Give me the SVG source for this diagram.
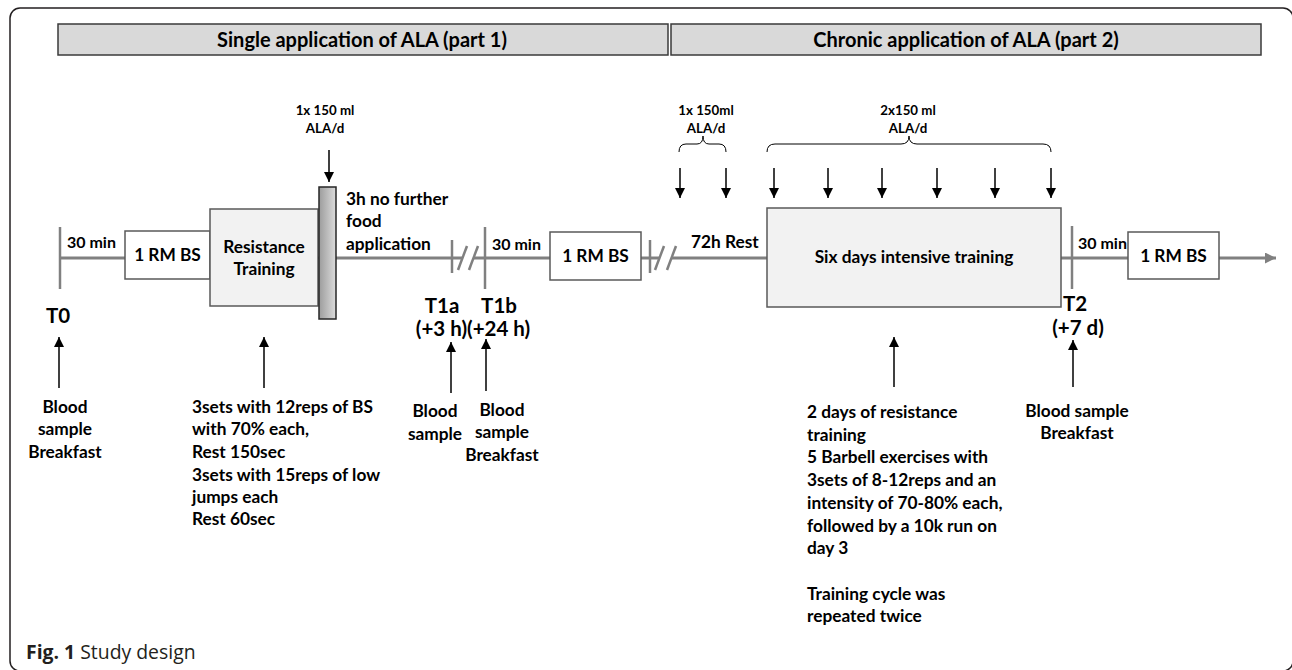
<svg xmlns="http://www.w3.org/2000/svg" width="1292" height="670" viewBox="0 0 1292 670">
<defs>
<marker id="ah" markerUnits="userSpaceOnUse" markerWidth="10" markerHeight="12" refX="10" refY="5" orient="auto">
<path d="M0,0 L10,5 L0,10 Z" fill="#000"/>
</marker>
<marker id="ahg" markerUnits="userSpaceOnUse" markerWidth="12" markerHeight="12" refX="11" refY="5.5" orient="auto">
<path d="M0,0 L11,5.5 L0,11 Z" fill="#808080"/>
</marker>
<linearGradient id="barg" x1="0" y1="0" x2="1" y2="0">
<stop offset="0" stop-color="#9c9c9c"/>
<stop offset="1" stop-color="#dcdcdc"/>
</linearGradient>
<style>
text{font-family:Lato,"Liberation Sans",sans-serif;font-weight:bold;fill:#000}
.hd{font-size:20px}
.lb{font-size:17.3px}
.sm{font-size:16px}
.ala{font-size:13.3px}
.tl{font-size:20.5px}
.mid{text-anchor:middle}
.hbar{fill:#d9d9d9;stroke:#3a3a3a;stroke-width:1.5}
.box{fill:#fff;stroke:#595959;stroke-width:1.5}
.gbox{fill:#f2f2f2;stroke:#595959;stroke-width:1.5}
.line{stroke:#808080;stroke-width:3;fill:none}
.tick{stroke:#808080;stroke-width:2.5;fill:none}
.arr{stroke:#000;stroke-width:1.5;fill:none}
.brace{stroke:#000;stroke-width:1;fill:none}
.cap{font-family:"Open Sans","Liberation Sans",sans-serif;font-size:19.4px;fill:#231f20}
</style>
</defs>
<rect x="10" y="8" width="1283" height="663" rx="10" fill="none" stroke="#231f20" stroke-width="1.5"/>

<g id="header1"><rect class="hbar" x="58" y="24" width="610" height="31"/><text class="hd mid" x="362" y="47">Single application of ALA (part 1)</text></g>
<g id="header2"><rect class="hbar" x="671" y="24" width="590" height="31"/><text class="hd mid" x="966" y="47">Chronic application of ALA (part 2)</text></g>

<g id="connectors">
<line class="line" x1="60" y1="258" x2="125" y2="258"/>
<line class="line" x1="210" y1="258" x2="319" y2="258"/>
<line class="line" x1="336" y1="258" x2="462" y2="258"/>
<line class="line" x1="473" y1="258" x2="550" y2="258"/>
<line class="line" x1="641" y1="258" x2="659" y2="258"/>
<line class="line" x1="671" y1="258" x2="767" y2="258"/>
<line class="line" x1="1061" y1="258" x2="1128" y2="258"/>
<line class="line" x1="1219" y1="258" x2="1276" y2="258" marker-end="url(#ahg)"/>
<line class="tick" x1="60" y1="227" x2="60" y2="289"/>
<line class="tick" x1="452" y1="240" x2="452" y2="273"/>
<line class="tick" x1="458" y1="270" x2="467" y2="246"/>
<line class="tick" x1="469" y1="270" x2="478" y2="246"/>
<line class="tick" x1="485" y1="227" x2="485" y2="289"/>
<line class="tick" x1="650" y1="240" x2="650" y2="273"/>
<line class="tick" x1="655" y1="270" x2="664" y2="246"/>
<line class="tick" x1="667" y1="270" x2="676" y2="246"/>
<line class="tick" x1="1072" y1="226" x2="1072" y2="289"/>
<line class="arr" x1="329" y1="150" x2="329" y2="182" marker-end="url(#ah)"/>
<line class="arr" x1="680" y1="168" x2="680" y2="198" marker-end="url(#ah)"/>
<line class="arr" x1="726" y1="168" x2="726" y2="198" marker-end="url(#ah)"/>
<line class="arr" x1="774" y1="168" x2="774" y2="198" marker-end="url(#ah)"/>
<line class="arr" x1="828" y1="168" x2="828" y2="198" marker-end="url(#ah)"/>
<line class="arr" x1="882" y1="168" x2="882" y2="198" marker-end="url(#ah)"/>
<line class="arr" x1="937" y1="168" x2="937" y2="198" marker-end="url(#ah)"/>
<line class="arr" x1="995" y1="168" x2="995" y2="198" marker-end="url(#ah)"/>
<line class="arr" x1="1051" y1="168" x2="1051" y2="198" marker-end="url(#ah)"/>
<line class="arr" x1="59" y1="388" x2="59" y2="337" marker-end="url(#ah)"/>
<line class="arr" x1="264" y1="388" x2="264" y2="337" marker-end="url(#ah)"/>
<line class="arr" x1="451" y1="393" x2="451" y2="342" marker-end="url(#ah)"/>
<line class="arr" x1="486" y1="391" x2="486" y2="339" marker-end="url(#ah)"/>
<line class="arr" x1="894" y1="387" x2="894" y2="337" marker-end="url(#ah)"/>
<line class="arr" x1="1073" y1="387" x2="1073" y2="340" marker-end="url(#ah)"/>
<path class="brace" d="M679,152 Q679,144 686,144 L697,144 Q703,144 703,136 Q703,144 709,144 L719,144 Q726,144 726,152"/>
<path class="brace" d="M767,152 Q767,144 775,144 L901,144 Q909,144 909,136 Q909,144 917,144 L1043,144 Q1051,144 1051,152"/>
</g>

<g id="rm1"><rect class="box" x="125" y="231" width="85" height="48"/><text class="lb mid" x="167.5" y="261">1 RM BS</text></g>
<g id="resistance"><rect class="gbox" x="210" y="209" width="108" height="97"/><text class="lb mid" x="264" y="253">Resistance</text><text class="lb mid" x="264" y="275">Training</text></g>
<g id="alabar"><rect x="319" y="187" width="17" height="132" fill="url(#barg)" stroke="#262626" stroke-width="1.5"/></g>
<g id="nofood"><text class="lb" x="346" y="205">3h no further</text><text class="lb" x="346" y="227">food</text><text class="lb" x="346" y="250">application</text></g>
<g id="rm2"><rect class="box" x="550" y="232" width="91" height="48"/><text class="lb mid" x="595.5" y="262">1 RM BS</text></g>
<g id="sixdays"><rect class="gbox" x="767" y="208" width="294" height="99"/><text class="lb mid" x="914" y="263">Six days intensive training</text></g>
<g id="rm3"><rect class="box" x="1128" y="232" width="91" height="47"/><text class="lb mid" x="1173.5" y="262">1 RM BS</text></g>

<g id="durations">
<text class="sm" x="67" y="248">30 min</text>
<text class="sm" x="492" y="250">30 min</text>
<text class="sm" x="1078" y="249">30 min</text>
<text class="lb" x="691" y="248">72h Rest</text>
</g>

<g id="ala-labels">
<text class="ala mid" x="325" y="115">1x 150 ml</text>
<text class="ala mid" x="325" y="133">ALA/d</text>
<text class="ala mid" x="706" y="115">1x 150ml</text>
<text class="ala mid" x="706" y="133">ALA/d</text>
<text class="ala mid" x="908" y="115">2x150 ml</text>
<text class="ala mid" x="908" y="133">ALA/d</text>
</g>

<g id="timepoints">
<text class="tl mid" x="58" y="323">T0</text>
<text class="tl mid" x="442" y="313">T1a</text>
<text class="tl mid" x="499" y="313">T1b</text>
<text class="tl mid" x="473" y="336">(+3 h)(+24 h)</text>
<text class="tl mid" x="1075" y="311">T2</text>
<text class="tl mid" x="1078" y="335">(+7 d)</text>
</g>

<g id="desc-t0"><text class="lb mid" x="65" y="413">Blood</text><text class="lb mid" x="65" y="435">sample</text><text class="lb mid" x="65" y="458">Breakfast</text></g>
<g id="desc-resistance">
<text class="lb" x="192" y="413">3sets with 12reps of BS</text>
<text class="lb" x="192" y="435">with 70% each,</text>
<text class="lb" x="192" y="458">Rest 150sec</text>
<text class="lb" x="192" y="481">3sets with 15reps of low</text>
<text class="lb" x="192" y="503">jumps each</text>
<text class="lb" x="192" y="525">Rest 60sec</text>
</g>
<g id="desc-t1a"><text class="lb mid" x="435" y="417">Blood</text><text class="lb mid" x="435" y="440">sample</text></g>
<g id="desc-t1b"><text class="lb mid" x="502" y="416">Blood</text><text class="lb mid" x="502" y="438">sample</text><text class="lb mid" x="502" y="461">Breakfast</text></g>
<g id="desc-sixdays">
<text class="lb" x="807" y="418">2 days of resistance</text>
<text class="lb" x="807" y="441">training</text>
<text class="lb" x="807" y="463">5 Barbell exercises with</text>
<text class="lb" x="807" y="486">3sets of 8-12reps and an</text>
<text class="lb" x="807" y="509">intensity of 70-80% each,</text>
<text class="lb" x="807" y="532">followed by a 10k run on</text>
<text class="lb" x="807" y="554">day 3</text>
<text class="lb" x="807" y="600">Training cycle was</text>
<text class="lb" x="807" y="622">repeated twice</text>
</g>
<g id="desc-t2"><text class="lb mid" x="1077" y="417">Blood sample</text><text class="lb mid" x="1077" y="439">Breakfast</text></g>

<g id="caption"><text class="cap" x="26" y="659"><tspan font-weight="bold">Fig. 1</tspan><tspan font-weight="normal"> Study design</tspan></text></g>
</svg>
